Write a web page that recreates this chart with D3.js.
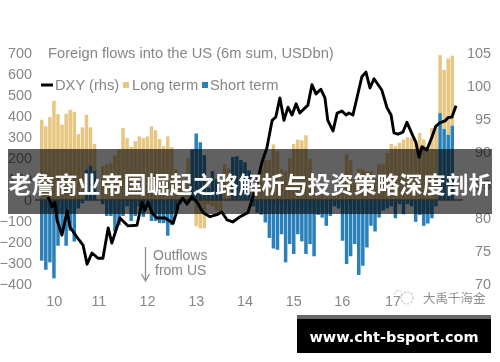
<!DOCTYPE html>
<html>
<head>
<meta charset="utf-8">
<script src="https://cdn.jsdelivr.net/npm/d3@7"></script>
<style>
	html, body { margin: 0; padding: 0; background: #fff; }
	svg { display: block; }
	text { font-family: "Liberation Sans", Arial, sans-serif; }
</style>
</head>
<body>
<svg id="chart" width="500" height="362"></svg>
<script>
const yearLabels = ["10", "11", "12", "13", "14", "15", "16", "17"];
const yearMonths = [3, 14, 26, 38, 50, 62, 74, 86.5];
const leftTicks = [700, 600, 500, 400, 300, 200, 100, 0, -100, -200, -300, -400];
const rightTicks = [105, 100, 95, 90, 85, 80, 75, 70];

// one value per month (USDbn)
const longTerm = [
	382, 351, 395, 472, 409, 359, 411, 430, 420, 314, 346, 261, 181, 127, 0, 161, 170,
	177, 213, 241, 343, 294, 253, 280, 303, 295, 303, 351, 332, 290, 256, 303, 251, 147,
	100, 40, 200, 0, -125, -135, -135, -20, -30, -50, -60, 170, 150, 0, 0, 0, 0,
	0, 50, 90, 150, 190, 190, 265, 232, 147, 137, 200, 267, 288, 284, 308, 194, 80,
	40, 30, 20, 20, 20, 40, 100, 218, 190, 100, 148, 145, 137, 137, 100, 170, 170,
	224, 267, 256, 272, 288, 299, 295, 280, 319, 288, 250, 343, 343, 276, 281, 362, 332
];
const shortTerm = [
	-289, -332, -297, -373, -218, -150, -218, -147, -198, -40, -15, 145, 165, 140, 0, -20, -76,
	-76, -150, -120, -76, -30, -100, -76, -30, -80, -30, -100, -100, -110, -110, -170, -120, -60,
	-20, 0, 0, 241, 317, 275, 213, 60, 137, 100, 60, 0, 0, 205, 208, 190, 180,
	140, -30, -60, -70, -107, -181, -231, -237, -163, -297, -210, -257, -163, -197, -257, -210, -268,
	-71, -84, -123, -76, -30, -40, -194, -305, -268, -210, -357, -313, -226, -123, -150, -84, -50,
	-40, -30, -87, -20, -68, -20, -30, -104, -71, -123, -112, -87, -30, 414, 338, 312, 355
];
const dxyMonth = [
	1.5, 2.5, 3.2, 3.7, 4.9, 6.2, 6.9, 8.6, 10.1, 11.1, 12.3, 13.8, 15, 16.3, 17.2, 19.2, 21.2,
	23.4, 24.1, 24.6, 25.4, 26.1, 27.1, 28.3, 30.3, 32.3, 33.3, 33.5, 34.7, 35.7, 36.9, 38.2,
	39.7, 41.4, 43.1, 44.3, 45.6, 47, 48.8, 50.7, 52.5, 54.2, 55.4, 56.7, 57.6, 58.6, 59.6,
	60.6, 61.6, 62.6, 63.5, 65.5, 66.5, 67.5, 68.7, 69.7, 70.4, 71.7, 72.7, 73.9, 74.9, 75.6,
	76.6, 78.8, 79.8, 80.8, 81.8, 83.7, 85, 86, 86.7, 87.7, 88.9, 89.9, 91.4, 92.1, 92.9,
	93.6, 94.8, 96.1, 97, 98, 99.3, 100, 101, 102
];
const dxyValue = [
	83.2, 81.7, 82.4, 79.7, 77.4, 81.1, 78.6, 77.1, 75.9, 73, 74.7, 73.9, 73.9, 78.5, 76.2, 80, 78.8,
	78.9, 80.9, 82.4, 81.2, 82.4, 80.8, 80, 80, 79.2, 81.2, 82, 83, 82.1, 83.2, 82.4,
	80.8, 80.2, 80.5, 80.9, 79.7, 79.4, 80.2, 80.8, 84.2, 88.5, 90.6, 94.8, 95.3, 98.2, 94.8,
	96.8, 95.6, 97.3, 95.9, 97.1, 100.2, 98.8, 99.5, 98.2, 94.8, 93.2, 95.9, 96.2, 95.6, 95.9,
	95.6, 101.4, 102.1, 99.7, 101.1, 99.4, 96.7, 95.6, 92.9, 92.7, 93, 94.5, 92.4, 91.5, 89.2,
	90.8, 90.3, 92.3, 93.9, 94.4, 94.7, 95.2, 95.3, 97
];

const colors = { gold: "#e6c680", blue: "#2a80b9", text: "#868686", line: "#000" };
const fontSize = "14.7px";
const root = d3.select("#chart");
// the reference is a soft, resampled image
const svg = root.append("g").style("filter", "blur(0.4px)");

const x = d3.scaleBand().domain(d3.range(longTerm.length)).range([40, 454]).paddingInner(0.14).paddingOuter(0);
const xLine = d3.scaleLinear().domain([0, longTerm.length]).range([40, 454]);
const y = d3.scaleLinear().domain([-400, 700]).range([284, 53]);
const yRight = d3.scaleLinear().domain([70, 105]).range([284, 53]);

// short term sits next to the axis, long term stacked on the outside
const rows = longTerm.map((d, i) => ({ i: i, short: shortTerm[i], long: d }));
const series = d3.stack().keys(["short", "long"]).offset(d3.stackOffsetDiverging)(rows);

svg.append("g")
	.selectAll("g")
	.data(series)
	.join("g")
	.attr("fill", d => d.key == "short" ? colors.blue : colors.gold)
	.selectAll("rect")
	.data(d => d)
	.join("rect")
	.attr("x", d => x(d.data.i))
	.attr("width", x.bandwidth())
	.attr("y", d => y(Math.max(d[0], d[1])))
	.attr("height", d => Math.abs(y(d[0]) - y(d[1])));

svg.append("line")
	.attr("x1", 35).attr("x2", 463)
	.attr("y1", y(0)).attr("y2", y(0))
	.attr("stroke", "#777").attr("stroke-width", 1.5);

const line = d3.line().x((d, i) => xLine(dxyMonth[i] + 0.5)).y(d => yRight(d));
svg.append("path")
	.datum(dxyValue)
	.attr("fill", "none")
	.attr("stroke", colors.line)
	.attr("stroke-width", 2.9)
	.attr("stroke-linejoin", "round")
	.attr("d", line);

function styleAxis(g) {
	g.select(".domain").remove();
	g.selectAll(".tick line").remove();
	g.selectAll("text").attr("fill", colors.text).style("font-size", "14.4px");
}

svg.append("g")
	.attr("transform", "translate(32,0)")
	.call(d3.axisLeft(y).tickValues(leftTicks).tickSize(0).tickPadding(0).tickFormat(d3.format("d")))
	.call(styleAxis);

svg.append("g")
	.attr("transform", "translate(491,0)")
	.call(d3.axisLeft(yRight).tickValues(rightTicks).tickSize(0).tickPadding(0))
	.call(styleAxis);

svg.append("g")
	.selectAll("text")
	.data(yearLabels)
	.join("text")
	.attr("x", (d, i) => xLine(yearMonths[i] + 0.5))
	.attr("y", 306)
	.attr("text-anchor", "middle")
	.attr("fill", colors.text)
	.style("font-size", "14.4px")
	.text(d => d);

svg.append("text")
	.attr("x", 48).attr("y", 58)
	.attr("fill", colors.text)
	.style("font-size", fontSize)
	.text("Foreign flows into the US (6m sum, USDbn)");

// legend
svg.append("line").attr("x1", 41).attr("x2", 53).attr("y1", 85).attr("y2", 85)
	.attr("stroke", colors.line).attr("stroke-width", 3);
svg.append("text").attr("x", 55).attr("y", 90).attr("fill", colors.text).style("font-size", fontSize).text("DXY (rhs)");
svg.append("rect").attr("x", 123).attr("y", 82).attr("width", 6).attr("height", 6).attr("fill", colors.gold);
svg.append("text").attr("x", 132).attr("y", 90).attr("fill", colors.text).style("font-size", fontSize).text("Long term");
svg.append("rect").attr("x", 202).attr("y", 82).attr("width", 6).attr("height", 6).attr("fill", colors.blue);
svg.append("text").attr("x", 210).attr("y", 90).attr("fill", colors.text).style("font-size", fontSize).text("Short term");

// outflows note
svg.append("line").attr("x1", 145.5).attr("x2", 145.5).attr("y1", 247).attr("y2", 280)
	.attr("stroke", "#8c8c8c").attr("stroke-width", 1.3);
svg.append("path").attr("d", "M141.5,274 L145.5,281 L149.5,274")
	.attr("fill", "none").attr("stroke", "#8c8c8c").attr("stroke-width", 1.3);
svg.append("text").attr("x", 153).attr("y", 260).attr("fill", colors.text).style("font-size", "14px").text("Outflows");
svg.append("text").attr("x", 155).attr("y", 275).attr("fill", colors.text).style("font-size", "14px").text("from US");

// watermark
svg.append("circle").attr("cx", 407).attr("cy", 298).attr("r", 6)
	.attr("fill", "none").attr("stroke", "#c4c4c4").attr("stroke-width", 1.2).attr("stroke-dasharray", "2 1.5");
svg.append("circle").attr("cx", 398).attr("cy", 294).attr("r", 3.5)
	.attr("fill", "none").attr("stroke", "#c4c4c4").attr("stroke-width", 1).attr("stroke-dasharray", "2 1.5");
svg.append("text").attr("x", 423).attr("y", 303)
	.attr("fill", "#8f8f8f")
	.style("font-family", "'Noto Sans CJK SC'").style("font-size", "12.5px")
	.text("大禹千海金");

// title banner over the chart
root.append("rect").attr("x", 8).attr("y", 149).attr("width", 484).attr("height", 65)
	.attr("fill", "#000").attr("fill-opacity", 0.62);
root.append("text").attr("x", 250).attr("y", 193)
	.attr("text-anchor", "middle")
	.attr("fill", "#fff")
	.style("font-family", "'Noto Sans CJK SC'").style("font-weight", 700).style("font-size", "23px")
	.text("老詹商业帝国崛起之路解析与投资策略深度剖析");

// footer badge
root.append("rect").attr("x", 297).attr("y", 315).attr("width", 194).attr("height", 4).attr("fill", "#666");
root.append("rect").attr("x", 297).attr("y", 319).attr("width", 194).attr("height", 34).attr("fill", "#000");
root.append("text").attr("x", 394).attr("y", 342)
	.attr("text-anchor", "middle")
	.attr("fill", "#fff")
	.style("font-family", "'DejaVu Sans'").style("font-weight", 700).style("font-size", "14.5px")
	.text("www.cht-bsport.com");
</script>
</body>
</html>
